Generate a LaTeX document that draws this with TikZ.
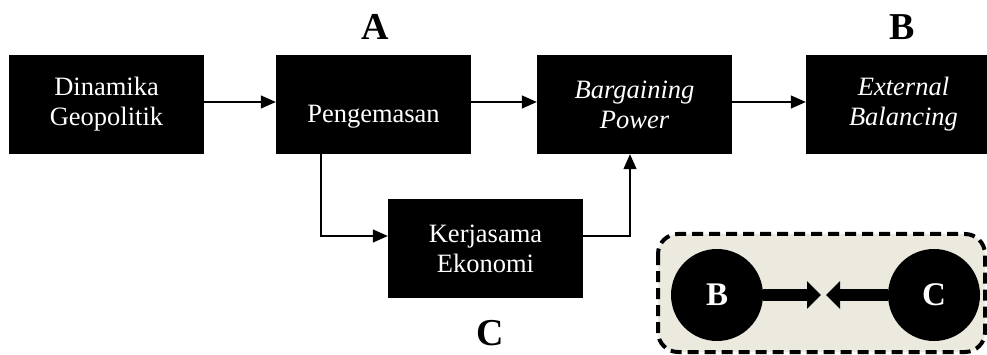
\documentclass[tikz,border=0pt]{standalone}
\usepackage{fontspec}
\setmainfont{Liberation Serif}
\usetikzlibrary{arrows.meta}
\definecolor{panelbg}{RGB}{236,233,223}
\tikzset{
  blackbox/.style={fill=black, text=white, minimum width=195pt, minimum height=99pt,
    inner sep=0pt, align=center, font=\fontsize{26.5}{30}\selectfont},
  lowtext/.style={text height=37pt, text depth=0pt},
  biglabel/.style={font=\fontsize{38}{40}\selectfont\bfseries, inner sep=0pt},
  flow/.style={line width=1.3pt, -{Triangle[length=15pt,width=13pt]}},
  dot/.style={circle, fill=black, minimum size=92pt, inner sep=0pt, text=white,
    font=\fontsize{33}{36}\selectfont\bfseries},
  fatarrow/.style={line width=12pt, -{Triangle[length=14pt,width=27pt]}}
}
\begin{document}
\begin{tikzpicture}[x=1pt,y=-1pt]
\useasboundingbox (0,0) rectangle (987,355);

% main flow
\node[blackbox] (dg) at (106.5,104.5) {Dinamika\\Geopolitik};
\node[blackbox, lowtext] (pg) at (373.5,104.5) {Pengemasan};
\node[blackbox] (bp) at (634.5,104.5) {\itshape Bargaining\\\itshape Power};
\node[blackbox] (eb) at (903.5,104.5) {\itshape External\\\itshape Balancing};
\node[blackbox] (ke) at (485.5,248.5) {Kerjasama\\Ekonomi};

\node[biglabel] (la) at (375,27) {A};
\node[biglabel] (lb) at (902,27) {B};
\node[biglabel] (lc) at (490,333) {C};

\draw[flow] (dg.east |- 0,102) -- (pg.west |- 0,102);
\draw[flow] (pg.east |- 0,102) -- (bp.west |- 0,102);
\draw[flow] (bp.east |- 0,102) -- (eb.west |- 0,102);

\coordinate (split) at (321,236);
\coordinate (join) at (630,236);
\draw[flow] (pg.south -| split) -- (split) -- (ke.west |- split);
\draw[flow] (ke.east |- join) -- (join) -- (bp.south -| join);

% B <-> C panel
\draw[line width=4pt, dash pattern=on 11pt off 6pt, rounded corners=20pt, fill=panelbg]
  (658,234) rectangle (985,352);
\node[dot] (cb) at (717,295) {B};
\node[dot] (cc) at (934,295) {C};
\coordinate (tipb) at (821,295);
\coordinate (tipc) at (826,295);
\draw[fatarrow] (cb.east) -- (tipb);
\draw[fatarrow] (cc.west) -- (tipc);
\end{tikzpicture}
\end{document}
